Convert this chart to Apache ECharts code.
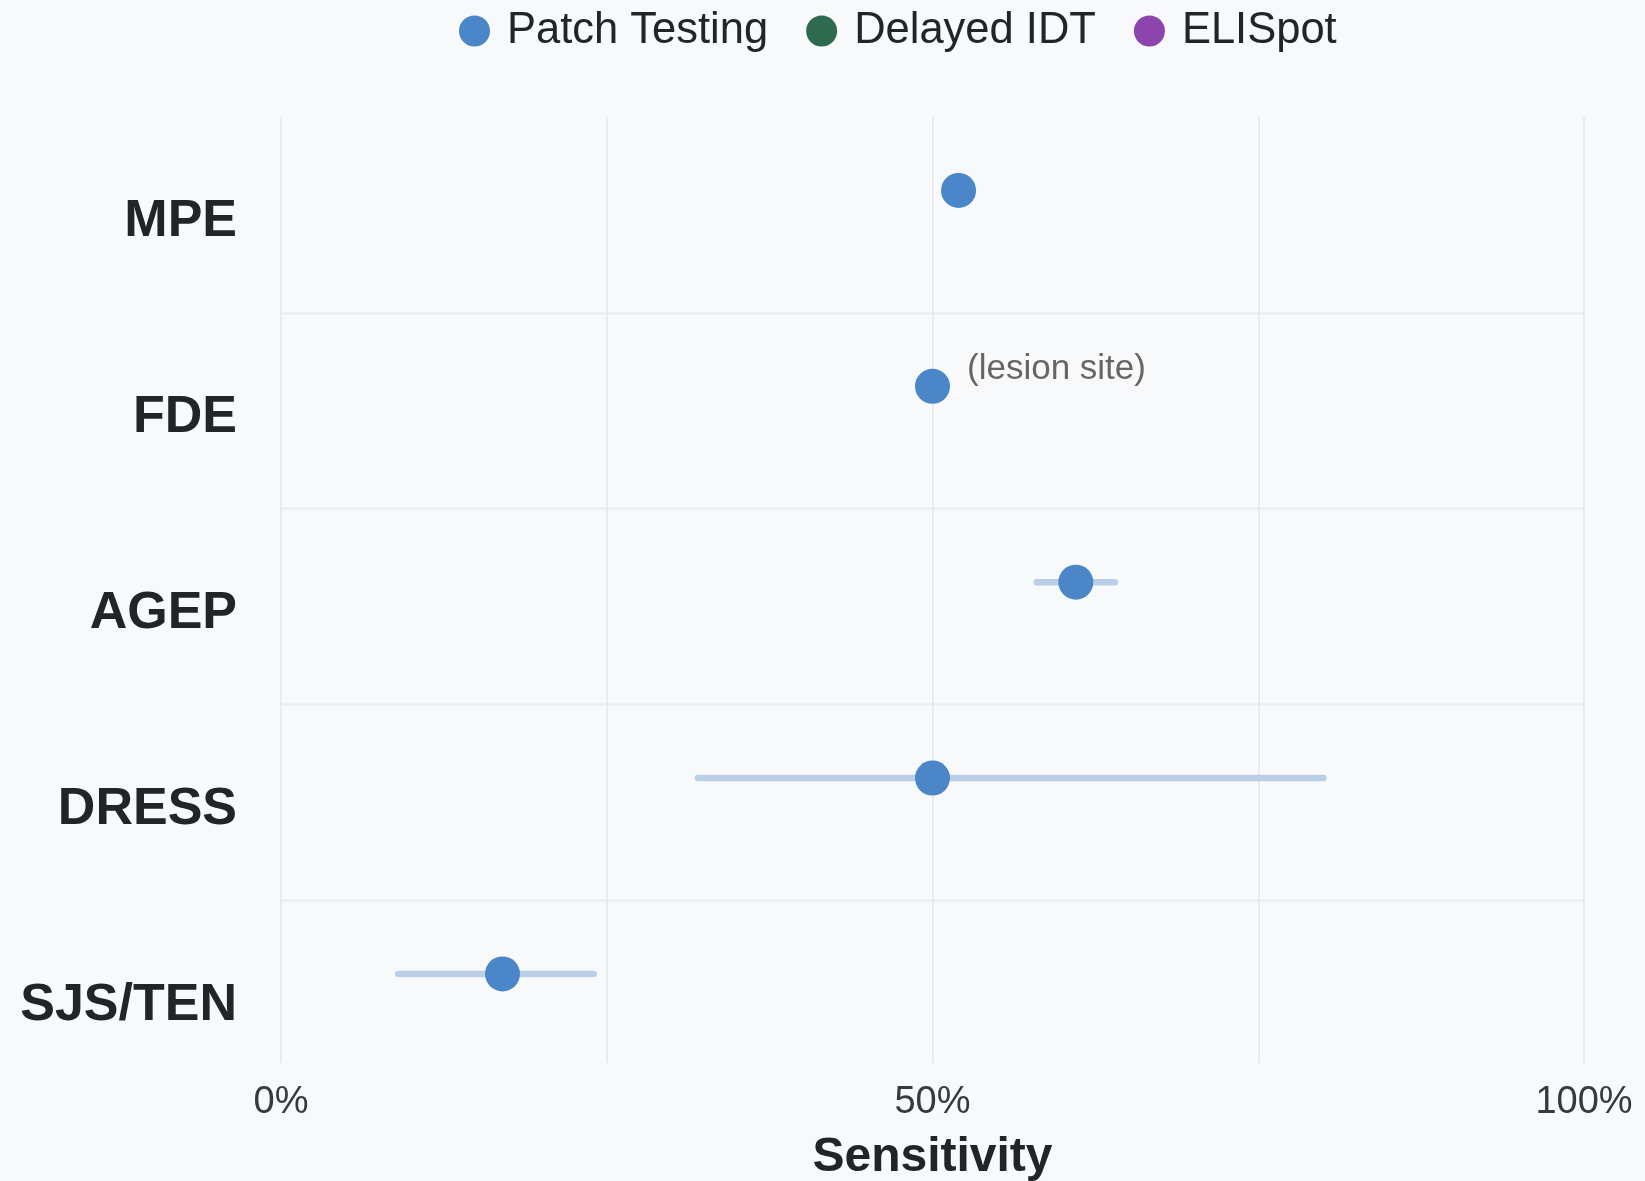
<!DOCTYPE html>
<html>
<head>
<meta charset="utf-8">
<title>Sensitivity by reaction type</title>
<script src="https://cdn.jsdelivr.net/npm/echarts@6/dist/echarts.min.js"></script>
<style>
  html, body { margin: 0; padding: 0; background: #f8f9fa; }
  #chart { width: 1645px; height: 1181px; }
</style>
</head>
<body>
<div id="chart"></div>
<script>
// categories, top to bottom
const categories = ['MPE', 'FDE', 'AGEP', 'DRESS', 'SJS/TEN'];
const seriesNames = ['Patch Testing', 'Delayed IDT', 'ELISpot'];
const seriesColors = ['#4a86c8', '#2d6a4f', '#8e44ad'];

// Patch Testing sensitivity (%) with range, null = no range
const patchValues = [52, 50, 61, 50, 17];
const patchLow = [null, null, 58, 32, 9];
const patchHigh = [null, null, 64, 80, 24];
const patchNotes = [null, '(lesion site)', null, null, null];

// Delayed IDT / ELISpot: no points shown
const idtValues = [];
const elispotValues = [];

const xTickLabels = { 0: '0%', 50: '50%', 100: '100%' };

// layout helpers
const yMax = 4.83;          // bottom edge of the plot, in category units
const patchOffset = -0.125; // patch testing row sits above the category centre
const labelShift = 7;       // category names sit a little below the band centre (px)
const font = 'Liberation Sans, Arial, sans-serif';

const patchPoints = patchValues.map(function (v, i) {
    const item = { value: [v, i + 0.5 + patchOffset] };
    if (patchNotes[i]) {
        item.label = {
            show: true,
            position: 'right',
            formatter: patchNotes[i],
            offset: [12, -17],
            color: '#666666',
            fontSize: 35,
            fontFamily: font
        };
    }
    return item;
});

const patchRanges = [];
patchLow.forEach(function (lo, i) {
    if (lo != null) patchRanges.push([lo, patchHigh[i], i + 0.5 + patchOffset]);
});

const chart = echarts.init(document.getElementById('chart'));

chart.setOption({
    backgroundColor: '#f8f9fa',
    animation: false,
    textStyle: { fontFamily: font },
    legend: {
        data: seriesNames,
        top: 4,
        left: 454,
        icon: 'circle',
        itemWidth: 55,
        itemHeight: 31,
        itemGap: 38,
        textStyle: { fontSize: 43.5, color: '#212529', fontFamily: font }
    },
    grid: [
        { left: 281, right: 61, top: 117, bottom: 118, containLabel: false, outerBoundsMode: 'none' },
        // only carries the category names
        { left: 281, right: 61, top: 117 + labelShift, bottom: 118 - labelShift, containLabel: false, outerBoundsMode: 'none' }
    ],
    xAxis: [
        {
            type: 'value',
            gridIndex: 0,
            min: 0,
            max: 100,
            interval: 25,
            name: 'Sensitivity',
            nameLocation: 'middle',
            nameGap: 71,
            nameTextStyle: { fontSize: 48, fontWeight: 'bold', color: '#212529', fontFamily: font },
            axisLine: { show: false },
            axisTick: { show: false },
            axisLabel: {
                margin: 21,
                fontSize: 38,
                color: '#343a40',
                fontFamily: font,
                formatter: function (v) { return xTickLabels[v] || ''; }
            },
            splitLine: { show: true, lineStyle: { color: '#e4e6e9', width: 1.5 } }
        },
        { type: 'value', gridIndex: 1, min: 0, max: 100, show: false }
    ],
    yAxis: [
        { // band separators
            type: 'value',
            gridIndex: 0,
            inverse: true,
            min: 0,
            max: yMax,
            interval: 1,
            axisLine: { show: false },
            axisTick: { show: false },
            axisLabel: { show: false },
            splitLine: {
                show: true,
                showMinLine: false,
                showMaxLine: false,
                lineStyle: { color: '#eceef0', width: 2.5 }
            }
        },
        { // category names, at band centres
            type: 'value',
            gridIndex: 1,
            inverse: true,
            min: 0,
            max: yMax,
            interval: 0.5,
            axisLine: { show: false },
            axisTick: { show: false },
            splitLine: { show: false },
            axisLabel: {
                margin: 44,
                fontSize: 52,
                fontWeight: 'bold',
                color: '#212529',
                fontFamily: font,
                formatter: function (v) {
                    const i = Math.round(v - 0.5);
                    if (Math.abs(v - (i + 0.5)) < 1e-6 && categories[i]) return categories[i];
                    return '';
                }
            }
        }
    ],
    series: [
        {
            name: seriesNames[0],
            type: 'scatter',
            symbolSize: 35,
            itemStyle: { color: seriesColors[0], opacity: 1 },
            z: 3,
            data: patchPoints
        },
        {
            name: seriesNames[0],
            type: 'custom',
            z: 2,
            encode: { x: [0, 1], y: 2 },
            renderItem: function (params, api) {
                const y = api.value(2);
                const p1 = api.coord([api.value(0), y]);
                const p2 = api.coord([api.value(1), y]);
                return {
                    type: 'line',
                    shape: { x1: p1[0], y1: p1[1], x2: p2[0], y2: p2[1] },
                    style: { stroke: '#b9cfe7', lineWidth: 6.5, lineCap: 'round' }
                };
            },
            data: patchRanges
        },
        {
            name: seriesNames[1],
            type: 'scatter',
            symbolSize: 35,
            itemStyle: { color: seriesColors[1], opacity: 1 },
            data: idtValues
        },
        {
            name: seriesNames[2],
            type: 'scatter',
            symbolSize: 35,
            itemStyle: { color: seriesColors[2], opacity: 1 },
            data: elispotValues
        }
    ]
});
</script>
</body>
</html>
